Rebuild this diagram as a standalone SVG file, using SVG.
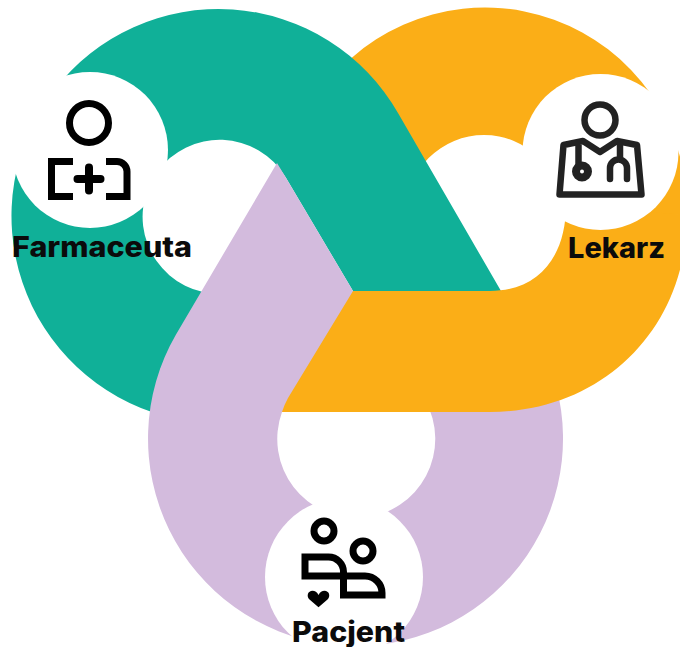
<svg xmlns="http://www.w3.org/2000/svg" width="680" height="647" viewBox="0 0 680 647">
<style>
.lbl{font-family:"Inter","Liberation Sans",sans-serif;font-weight:800;font-size:28px;fill:#0b0b0b}
.ic{fill:none;stroke:#000;stroke-width:7}
.ic2{fill:none;stroke:#222;stroke-width:6.5;stroke-linejoin:round}
</style>
<rect width="680" height="647" fill="#fff"/>
<g id="connectors">
<path id="ring-orange-under" fill="#FBAE17" d="M330,80A202,202 0 0 1 687,210L687,215L562,213A78,78 0 0 0 406,213Z"/>
<path id="ring-teal" fill="#10B098" d="M165,416A207,207 0 1 1 398.300,113.500L501,291L353,291L285.500,177A77,77 0 1 0 203,292L160,370Z"/>
<path id="ring-lilac" fill="#D3BBDD" d="M277,163L176,334.500A207.500,207.500 0 1 0 556,385L425,400A79,79 0 1 1 282,412L300,412L360,297L353,291L285.500,177Z"/>
<path id="ring-orange-over" fill="#FBAE17" d="M353,291L288,398A79,79 0 0 0 282,412H490C603,412 687,328 687,215L566,205C566,255 540,291 490,291Z"/>
</g>
<g id="node-farmaceuta">
<circle cx="90" cy="150" r="78" fill="#fff"/>
<circle class="ic" cx="89" cy="123" r="19.500"/>
<path class="ic" d="M73,161.500H51.500V196.500H73M106,161.500H117A10,10 0 0 1 127,171.500V196.500H106"/>
<path d="M77.500,179H100.500M89,167.500V190.500" fill="none" stroke="#000" stroke-width="8" stroke-linecap="round"/>
<text class="lbl" x="12" y="257" textLength="180" lengthAdjust="spacingAndGlyphs">Farmaceuta</text>
</g>
<g id="node-lekarz">
<circle cx="600.500" cy="152" r="78" fill="#fff"/>
<circle class="ic2" cx="600" cy="120" r="15.500"/>
<path class="ic2" d="M559.500,194.500L563.500,145L583,141L600,152L617,141L637,145L641.500,194.500Z"/>
<path class="ic2" d="M578.500,145V165"/>
<circle cx="582" cy="171.500" r="6" fill="none" stroke="#222" stroke-width="8"/>
<path class="ic2" stroke-linecap="round" d="M610,179V168A8.500,8.500 0 0 1 627,168V179M620,145V159"/>
<text class="lbl" x="568" y="258" textLength="97" lengthAdjust="spacingAndGlyphs">Lekarz</text>
</g>
<g id="node-pacjent">
<circle cx="344" cy="577" r="79" fill="#fff"/>
<circle class="ic" cx="324" cy="531" r="10"/>
<circle class="ic" cx="363" cy="551" r="10"/>
<path class="ic" d="M343.500,595V572A15,15 0 0 0 328.500,557H305V576H365A17,17 0 0 1 382,593V595Z"/>
<path d="M318.500,607.300L309.500,599.500C306,596 308,590.700 312.500,590.700C315,590.700 317,592 318.500,595C320,592 322,590.700 324.500,590.700C329,590.700 331,596 327.500,599.500Z" fill="#000"/>
<text class="lbl" x="292" y="642" textLength="113" lengthAdjust="spacingAndGlyphs">Pacjent</text>
</g>
</svg>
